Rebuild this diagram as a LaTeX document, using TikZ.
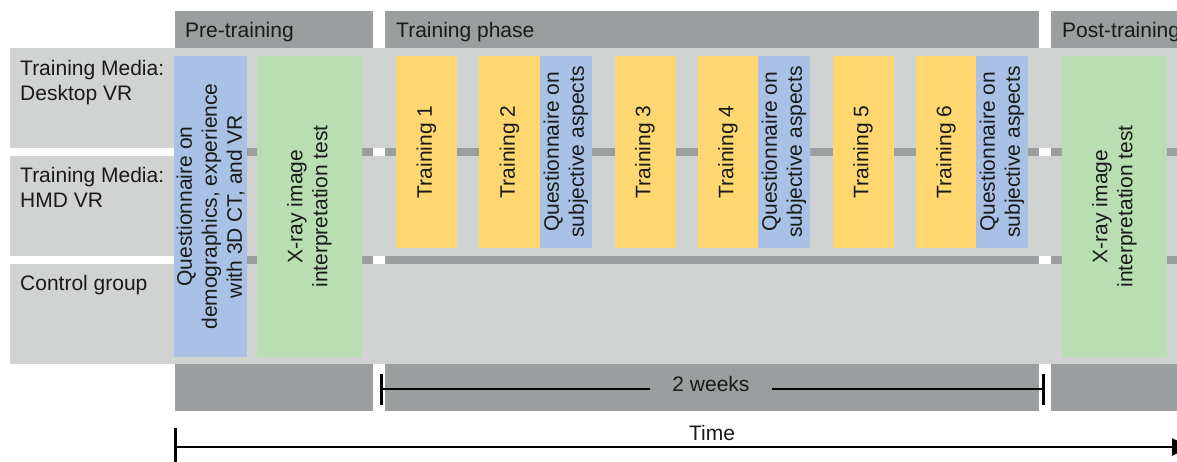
\documentclass[tikz,border=0pt]{standalone}
\usepackage{fontspec}
\setmainfont{Liberation Sans}
\usetikzlibrary{arrows.meta}

\definecolor{phasegray}{RGB}{155,158,158}
\definecolor{rowgray}{RGB}{209,211,211}
\definecolor{qblue}{RGB}{169,193,228}
\definecolor{testgreen}{RGB}{184,222,177}
\definecolor{trainyellow}{RGB}{254,215,112}
\definecolor{ink}{RGB}{26,26,26}

\begin{document}
\begin{tikzpicture}[x=1pt,y=-1pt,
  every node/.style={text=ink, font=\fontsize{21}{25}\selectfont},
  vbox/.style={rotate=90, inner sep=0pt, align=center, anchor=center},
  questbox/.style={vbox, fill=qblue},
  testbox/.style={vbox, fill=testgreen, minimum width=301pt, minimum height=105pt},
  trainbox/.style={vbox, fill=trainyellow, minimum width=192pt, minimum height=61pt},
  subjbox/.style={questbox, minimum width=192pt, minimum height=52pt},
  headtext/.style={anchor=base west, inner sep=0pt},
  rowlabel/.style={anchor=base west, inner sep=0pt, align=left},
  timeline/.style={draw=black, line width=2.6pt}]

\useasboundingbox (0,0) rectangle (1177,461);
\clip (0,0) rectangle (1177,461);

% phase columns: header, row separators and footer
\fill[phasegray] (175,11) rectangle (373,411);
\fill[phasegray] (385,11) rectangle (1039,411);
\fill[phasegray] (1051,11) rectangle (1195,411);

% group rows
\fill[rowgray] (10,48) rectangle (1195,148);
\fill[rowgray] (10,156) rectangle (1195,256);
\fill[rowgray] (10,264) rectangle (1195,364);

% phase headers
\node[headtext] (hpre) at (185,37) {Pre-training};
\node[headtext] (htrain) at (396,37) {Training phase};
\node[headtext] (hpost) at (1062,37) {Post-training};

% group labels (base anchor sits on the last line)
\node[rowlabel] (g1) at (20,100) {Training Media:\\Desktop VR};
\node[rowlabel] (g2) at (20,207) {Training Media:\\HMD VR};
\node[rowlabel] (g3) at (20,290) {Control group};

% pre-training
\node[questbox, minimum width=301pt, minimum height=73pt] (qdemo) at (210.5,206.5)
  {Questionnaire on\\demographics, experience\\with 3D CT, and VR};
\node[testbox] (xpre) at (309.5,206.5) {X-ray image\\interpretation test};

% training sessions
\node[trainbox] (t1) at (426.5,152) {Training 1};
\node[trainbox] (t2) at (509.5,152) {Training 2};
\node[subjbox]  (s1) at (566,152) {Questionnaire on\\subjective aspects};
\node[trainbox] (t3) at (645,152) {Training 3};
\node[trainbox] (t4) at (728,152) {Training 4};
\node[subjbox]  (s2) at (784,152) {Questionnaire on\\subjective aspects};
\node[trainbox] (t5) at (863,152) {Training 5};
\node[trainbox] (t6) at (946,152) {Training 6};
\node[subjbox]  (s3) at (1002,152) {Questionnaire on\\subjective aspects};

% post-training
\node[testbox] (xpost) at (1114.5,206.5) {X-ray image\\interpretation test};

% duration of the training phase
\coordinate (wl) at (380,389);
\coordinate (wr) at (1045,389);
\node[anchor=base, inner xsep=22pt, inner ysep=0pt] (weeks) at (711,391.7) {2 weeks};
\draw[timeline, {Bar[width=31pt]}-] (wl) -- (wl -| weeks.west);
\draw[timeline, -{Bar[width=31pt]}] (weeks.east |- wr) -- (wr);

% time axis
\coordinate (ts) at (174,447);
\coordinate (te) at (1190,447);
\draw[timeline, {Bar[width=38pt]}-{Triangle[length=18pt,width=17pt]}] (ts) -- (te);
\node[anchor=base] (time) at (712,440) {Time};

\end{tikzpicture}
\end{document}
